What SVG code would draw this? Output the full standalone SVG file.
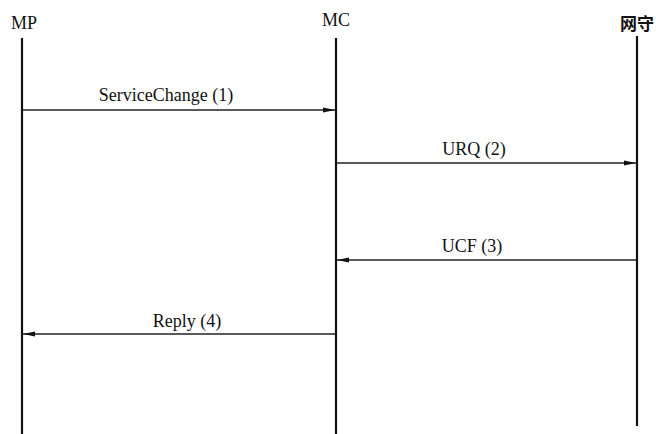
<svg xmlns="http://www.w3.org/2000/svg" width="656" height="434" viewBox="0 0 656 434">
<style>
.t{font-family:"Liberation Serif","Noto Sans CJK SC",serif;font-size:18px;fill:#111}
.cjk{font-family:"Noto Sans CJK SC",sans-serif;font-size:17px;font-weight:bold;fill:#111}
.life{stroke:#111;stroke-width:2.2}
.msg{stroke:#222;stroke-width:1.3;fill:none;marker-end:url(#ah)}
</style>
<defs>
<marker id="ah" viewBox="0 0 12 6" refX="12" refY="3" markerWidth="12" markerHeight="6" markerUnits="userSpaceOnUse" orient="auto">
<path d="M0,0.5 L12,3 L0,5.5 Z" fill="#111"/>
</marker>
</defs>
<rect width="656" height="434" fill="#fff"/>
<g id="mp">
<text class="t" x="11" y="29">MP</text>
<line class="life" x1="22" y1="38" x2="22" y2="434"/>
</g>
<g id="mc">
<text class="t" x="336" y="26" text-anchor="middle">MC</text>
<line class="life" x1="336" y1="38" x2="336" y2="434"/>
</g>
<g id="gk">
<text class="cjk" x="620" y="30">网守</text>
<line class="life" x1="637" y1="36" x2="637" y2="426"/>
</g>
<g id="connectors">
<line class="msg" x1="23" y1="110" x2="335" y2="110"/>
<text class="t" x="166" y="101" text-anchor="middle">ServiceChange (1)</text>
<line class="msg" x1="337" y1="163" x2="636" y2="163"/>
<text class="t" x="474" y="155" text-anchor="middle">URQ (2)</text>
<line class="msg" x1="636" y1="260" x2="337" y2="260"/>
<text class="t" x="472" y="252" text-anchor="middle">UCF (3)</text>
<line class="msg" x1="335" y1="334" x2="23" y2="334"/>
<text class="t" x="187" y="327" text-anchor="middle">Reply (4)</text>
</g>
</svg>
